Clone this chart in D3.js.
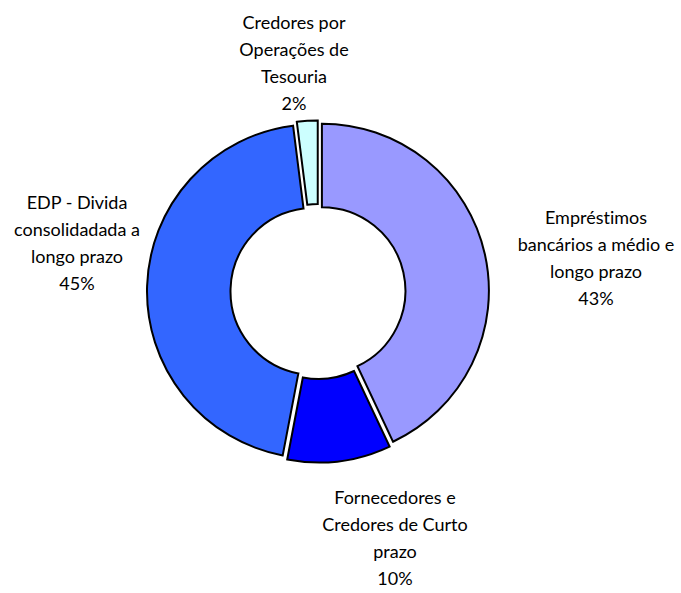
<!DOCTYPE html>
<html>
<head>
<meta charset="utf-8">
<script src="https://cdn.jsdelivr.net/npm/d3@7"></script>
<style>
  body { margin: 0; background: #fff; }
</style>
</head>
<body>
<div id="frame"></div>
<script>
// data
const categories = [
    "Empréstimos bancários a médio e longo prazo",
    "Fornecedores e Credores de Curto prazo",
    "EDP - Divida consolidadada a longo prazo",
    "Credores por Operações de Tesouria"
];
const values = [43, 10, 45, 2];
const labelLines = [
    ["Empréstimos", "bancários a médio e", "longo prazo"],
    ["Fornecedores e", "Credores de Curto", "prazo"],
    ["EDP - Divida", "consolidadada a", "longo prazo"],
    ["Credores por", "Operações de", "Tesouria"]
];
const colors = ["#9999FF", "#0000FF", "#3366FF", "#CCFFFF"];

let width = 681, height = 593;
let cx = 318, cy = 291.5,
    outerR = 167, innerR = 83.5,
    explode = 4;

// label block centres, relative to the pie centre
const labelPos = [[278, -33], [77, 247], [-241, -48], [-24, -228]];
const lineH = 27;

let svg = d3.select('#frame')
    .append('svg')
    .attr('width', width)
    .attr('height', height);

let g = svg.append('g')
    .attr('transform', 'translate(' + cx + ',' + cy + ')');

let pie = d3.pie().sort(null).value(d => d);
let arc = d3.arc().innerRadius(innerR).outerRadius(outerR);
let total = d3.sum(values);

let slices = pie(values);

//exploded slices
g.selectAll('path')
    .data(slices)
    .enter()
    .append('path')
    .attr('d', arc)
    .attr('transform', d => {
        let a = (d.startAngle + d.endAngle) / 2;
        return 'translate(' + (Math.sin(a) * explode) + ',' + (-Math.cos(a) * explode) + ')';
    })
    .style('fill', (d, i) => colors[i])
    .style('stroke', '#000')
    .style('stroke-width', 2);

//labels
let labels = g.selectAll('text.lbl')
    .data(slices)
    .enter()
    .append('text')
    .attr('class', 'lbl')
    .style('font-family', 'Lato, sans-serif')
    .style('font-size', '18px')
    .style('font-variant-ligatures', 'none')
    .style('fill', '#000')
    .attr('text-anchor', 'middle');

labels.each(function (d, i) {
    let lines = labelLines[i].concat([Math.round(d.value / total * 100) + '%']);
    let t = d3.select(this);
    lines.forEach((s, k) => {
        t.append('tspan')
            .attr('x', labelPos[i][0])
            .attr('y', labelPos[i][1] + (k - 1.5) * lineH + 6)
            .text(s);
    });
});
</script>
</body>
</html>
